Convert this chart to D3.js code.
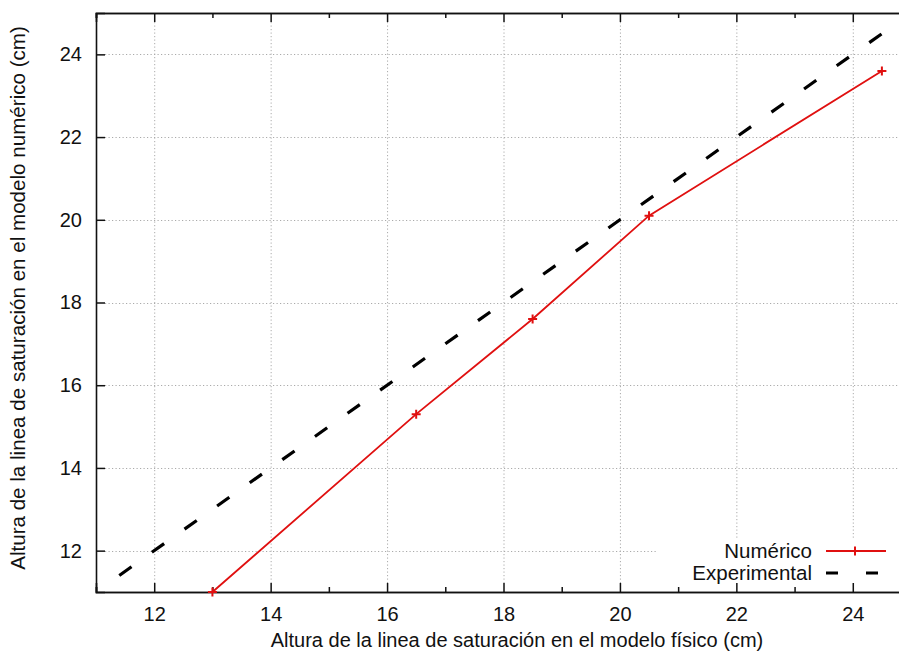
<!DOCTYPE html>
<html><head><meta charset="utf-8">
<script src="https://cdn.jsdelivr.net/npm/d3@7"></script>
<style>body{margin:0;background:#fff}svg{display:block}text{font-family:"Liberation Sans",Arial,sans-serif;fill:#111}</style>
</head><body>
<script>
const numX = [13, 16.5, 18.5, 20.5, 24.5];
const numY = [11, 15.3, 17.6, 20.1, 23.6];
const expX = [11.4, 24.5];
const expY = [11.4, 24.5];
const majorTicks = [12, 14, 16, 18, 20, 22, 24];
const minorTicks = [11, 13, 15, 17, 19, 21, 23, 25];
const seriesNames = ["Numérico", "Experimental"];
const xTitle = "Altura de la linea de saturación en el modelo físico (cm)";
const yTitle = "Altura de la linea de saturación en el modelo numérico (cm)";

(function(){
const W = 899, H = 657;
const m = {l: 96, t: 13, r: 911, b: 592};
const svg = d3.select("body").append("svg").attr("width", W).attr("height", H);
const x = d3.scaleLinear().domain([11, 25]).range([m.l, m.r]);
const y = d3.scaleLinear().domain([11, 25]).range([m.b, m.t]);

// grid
const grid = svg.append("g").attr("stroke", "#aaa").attr("stroke-width", 1).attr("stroke-dasharray", "1.2,2.3");
grid.selectAll(".gx").data(majorTicks).join("line")
  .attr("x1", d => x(d) + 0.5).attr("x2", d => x(d) + 0.5).attr("y1", m.t + 9).attr("y2", m.b - 9);
grid.selectAll(".gy").data(majorTicks).join("line")
  .attr("y1", d => Math.round(y(d)) + 0.5).attr("y2", d => Math.round(y(d)) + 0.5).attr("x1", m.l + 9).attr("x2", m.r);

// legend background
svg.append("rect").attr("x", 658).attr("y", 539).attr("width", 260).attr("height", m.b - 539).attr("fill", "#fff");

// axes
const axB = d3.axisBottom(x).tickValues(majorTicks).tickSize(-9).tickPadding(15).tickFormat(d3.format("d"));
svg.append("g").attr("transform", `translate(0,${m.b})`).call(axB);
const axT = d3.axisTop(x).tickValues(majorTicks).tickSize(-9).tickFormat("");
svg.append("g").attr("transform", `translate(0,${m.t})`).call(axT);
const minB = d3.axisBottom(x).tickValues(minorTicks).tickSize(-5).tickFormat("");
svg.append("g").attr("transform", `translate(0,${m.b})`).call(minB);
const minT = d3.axisTop(x).tickValues(minorTicks).tickSize(-5).tickFormat("");
svg.append("g").attr("transform", `translate(0,${m.t})`).call(minT);
const axL = d3.axisLeft(y).tickValues(majorTicks).tickSize(-9).tickPadding(14).tickFormat(d3.format("d"));
svg.append("g").attr("transform", `translate(${m.l},0)`).call(axL);
svg.selectAll(".domain").attr("stroke", "#111").attr("stroke-width", 1.6);
svg.selectAll(".tick line").attr("stroke", "#111").attr("stroke-width", 1.5);
svg.selectAll(".tick text").attr("font-size", 20).attr("fill", "#111").style("font-family", "Liberation Sans, Arial, sans-serif");

// experimental dashed
const line = d3.line().x(d => x(d[0])).y(d => y(d[1]));
svg.append("path").datum(d3.zip(expX, expY)).attr("d", line)
  .attr("fill", "none").attr("stroke", "#000").attr("stroke-width", 3.2).attr("stroke-dasharray", "15,25");
// numeric
const num = d3.zip(numX, numY);
svg.append("path").datum(num).attr("d", line)
  .attr("fill", "none").attr("stroke", "#e01010").attr("stroke-width", 1.8);
const plus = (g, cx, cy) => {
  g.append("path").attr("d", `M${cx-4.5},${cy}H${cx+4.5}M${cx},${cy-4.5}V${cy+4.5}`)
    .attr("stroke", "#e01010").attr("stroke-width", 2).attr("fill", "none");
};
const mk = svg.append("g");
num.forEach(d => plus(mk, x(d[0]), y(d[1])));

// legend
const lg = svg.append("g");
lg.append("text").attr("x", 812).attr("y", 551).attr("dy", "0.35em").attr("text-anchor", "end").attr("font-size", 20.5).text(seriesNames[0]);
lg.append("text").attr("x", 812).attr("y", 573).attr("dy", "0.35em").attr("text-anchor", "end").attr("font-size", 20.5).text(seriesNames[1]);
lg.append("line").attr("x1", 826).attr("x2", 886).attr("y1", 551).attr("y2", 551).attr("stroke", "#e01010").attr("stroke-width", 2);
plus(lg, 855, 551);
lg.append("line").attr("x1", 826).attr("x2", 900).attr("y1", 573).attr("y2", 573).attr("stroke", "#000").attr("stroke-width", 3.2).attr("stroke-dasharray", "12,28");

// titles
svg.append("text").attr("x", 517).attr("y", 647).attr("text-anchor", "middle").attr("font-size", 20).text(xTitle);
svg.append("text").attr("transform", "translate(25,298) rotate(-90)").attr("text-anchor", "middle").attr("font-size", 20.6).text(yTitle);
})();
</script>
</body></html>
